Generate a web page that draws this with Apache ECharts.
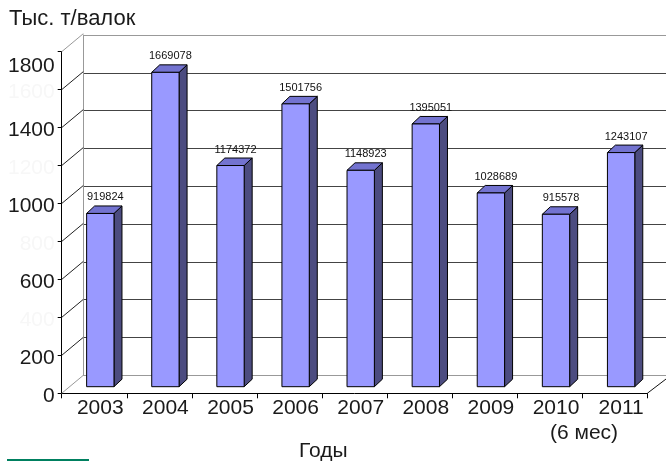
<!DOCTYPE html>
<html>
<head>
<meta charset="utf-8">
<script src="https://cdn.jsdelivr.net/npm/echarts@6/dist/echarts.min.js"></script>
<style>html,body{margin:0;padding:0;background:#fff}#c{width:666px;height:461px}</style>
</head>
<body>
<div id="c"></div>
<script>
// ---- data ----
const categories = ['2003', '2004', '2005', '2006', '2007', '2008', '2009', '2010', '2011'];
const values = [919824, 1669078, 1174372, 1501756, 1148923, 1395051, 1028689, 915578, 1243107];
const yTicks = [0, 200, 400, 600, 800, 1000, 1200, 1400, 1600, 1800];
const shownTicks = [0, 200, 600, 1000, 1400, 1800];
const yTitle = 'Тыс. т/валок';
const xTitle = 'Годы';
const lastNote = '(6 мес)';

// ---- styling constants ----
const FONT = 'Liberation Sans, Arial, sans-serif';
const WALL_DX = 21.6, WALL_DY = -18;   // depth of the floor/side wall
const BAR_DX = 8, BAR_DY = -7.5;       // depth of a bar
const YMAX = 1800;

const chart = echarts.init(document.getElementById('c'), null, {renderer: 'canvas'});

const option = {
  backgroundColor: '#ffffff',
  animation: false,
  grid: [
    {left: 67.75, right: 12.35, top: 47.7, bottom: 74.3, outerBoundsMode: 'none'},
    {left: 61.7, right: 18.7, top: 51.7, bottom: 67.7, outerBoundsMode: 'none'},
    {left: 83.3, right: 0, top: 35, bottom: 85.8, outerBoundsMode: 'none'}
  ],
  xAxis: [
    {
      gridIndex: 0, type: 'category', data: categories,
      axisLine: {show: false}, axisTick: {show: false},
      axisLabel: {show: true, margin: 11, fontSize: 21, color: '#1a1a1a', fontFamily: FONT, interval: 0}
    },
    {
      gridIndex: 1, type: 'category', data: categories,
      axisLine: {show: true, lineStyle: {color: '#000', width: 1}},
      axisTick: {show: true, length: 5, lineStyle: {color: '#000'}, interval: 0},
      axisLabel: {show: false}
    },
    {
      gridIndex: 2, type: 'category', data: categories,
      axisLine: {show: true, lineStyle: {color: '#999', width: 1}},
      axisTick: {show: false}, axisLabel: {show: false}
    }
  ],
  yAxis: [
    {gridIndex: 0, type: 'value', min: 0, max: YMAX, interval: 200, show: false},
    {
      gridIndex: 1, type: 'value', min: 0, max: YMAX, interval: 200,
      axisLine: {show: true, lineStyle: {color: '#000', width: 1}},
      axisTick: {show: true, length: 4, inside: false, lineStyle: {color: '#000'}},
      splitLine: {show: false},
      axisLabel: {
        show: true, margin: 7, fontSize: 21, color: '#1a1a1a', fontFamily: FONT,
        formatter: function (v) {
          if (shownTicks.indexOf(v) < 0) return '{w|' + v + '}';
          if (v === YMAX) return '{t|' + v + '}';
          return '{n|' + v + '}';
        },
        rich: {
          n: {fontSize: 21, color: '#1a1a1a', fontFamily: FONT, padding: [5, 0, 0, 0]},
          w: {fontSize: 21, color: '#f7f7f7', fontFamily: FONT, padding: [5, 0, 0, 0]},
          t: {fontSize: 21, color: '#1a1a1a', fontFamily: FONT, padding: [29, 0, 0, 0]}
        }
      }
    },
    {
      gridIndex: 2, type: 'value', min: 0, max: YMAX, interval: 200,
      axisLine: {show: true, lineStyle: {color: '#999', width: 1}},
      axisTick: {show: false}, axisLabel: {show: false},
      splitLine: {show: true, lineStyle: {color: ['#999', '#444', '#444', '#444', '#444', '#444', '#444', '#444', '#444', '#999'], width: 1.2}}
    }
  ],
  graphic: [
    {type: 'text', left: 9, top: 8, style: {text: yTitle, fontSize: 22, fill: '#1a1a1a', fontFamily: FONT}},
    {type: 'text', left: 299, top: 441, style: {text: xTitle, fontSize: 21, fill: '#1a1a1a', fontFamily: FONT}},
    {type: 'text', left: 550, top: 423, style: {text: lastNote, fontSize: 21, fill: '#1a1a1a', fontFamily: FONT, letterSpacing: 1.5}},
    {type: 'line', shape: {x1: 7, y1: 460, x2: 89, y2: 460}, style: {stroke: '#008060', lineWidth: 2}}
  ],
  series: [
    {
      type: 'custom', xAxisIndex: 1, yAxisIndex: 1, silent: true, z: 1,
      data: yTicks.map(function (v) { return [0, v]; }),
      renderItem: function (params, api) {
        const cs = params.coordSys;
        const v = api.value(1);
        const y = api.coord([0, v])[1];
        return {
          type: 'line',
          shape: {x1: cs.x, y1: y, x2: cs.x + WALL_DX, y2: y + WALL_DY},
          style: {stroke: (v === 0 || v === YMAX) ? '#999' : '#222', lineWidth: 1}
        };
      }
    },
    {
      type: 'custom', xAxisIndex: 1, yAxisIndex: 1, silent: true, z: 1,
      data: [[categories.length - 1, 0]],
      renderItem: function (params, api) {
        const cs = params.coordSys;
        const y = api.coord([0, 0])[1];
        const x = cs.x + cs.width;
        return {
          type: 'line',
          shape: {x1: x, y1: y, x2: x + WALL_DX + 2, y2: y + WALL_DY},
          style: {stroke: '#111', lineWidth: 1}
        };
      }
    },
    {
      type: 'custom', xAxisIndex: 0, yAxisIndex: 0, z: 3,
      data: values.map(function (v, i) { return [i, v / 1000, v]; }),
      renderItem: function (params, api) {
        const base = api.coord([api.value(0), 0]);
        const top = api.coord([api.value(0), api.value(1)]);
        const w = api.size([1, 0])[0] * 0.42;
        const l = top[0] - w / 2, r = top[0] + w / 2;
        const yt = top[1], yb = base[1];
        const edge = {stroke: '#000', lineWidth: 1};
        return {
          type: 'group',
          children: [
            {type: 'polygon', shape: {points: [[r, yt], [r + BAR_DX, yt + BAR_DY], [r + BAR_DX, yb + BAR_DY], [r, yb]]},
              style: Object.assign({fill: '#4c4c80'}, edge)},
            {type: 'polygon', shape: {points: [[l, yt], [l + BAR_DX, yt + BAR_DY], [r + BAR_DX, yt + BAR_DY], [r, yt]]},
              style: Object.assign({fill: '#7373d0'}, edge)},
            {type: 'rect', shape: {x: l, y: yt, width: w, height: yb - yt},
              style: Object.assign({fill: '#9999ff'}, edge)},
            {type: 'text', style: {x: top[0] + BAR_DX / 2 + 1, y: yt + BAR_DY - 3, text: String(api.value(2)),
              textAlign: 'center', textVerticalAlign: 'bottom', fontSize: 11, fill: '#111', fontFamily: FONT}}
          ]
        };
      }
    }
  ]
};
chart.setOption(option);
</script>
</body>
</html>
